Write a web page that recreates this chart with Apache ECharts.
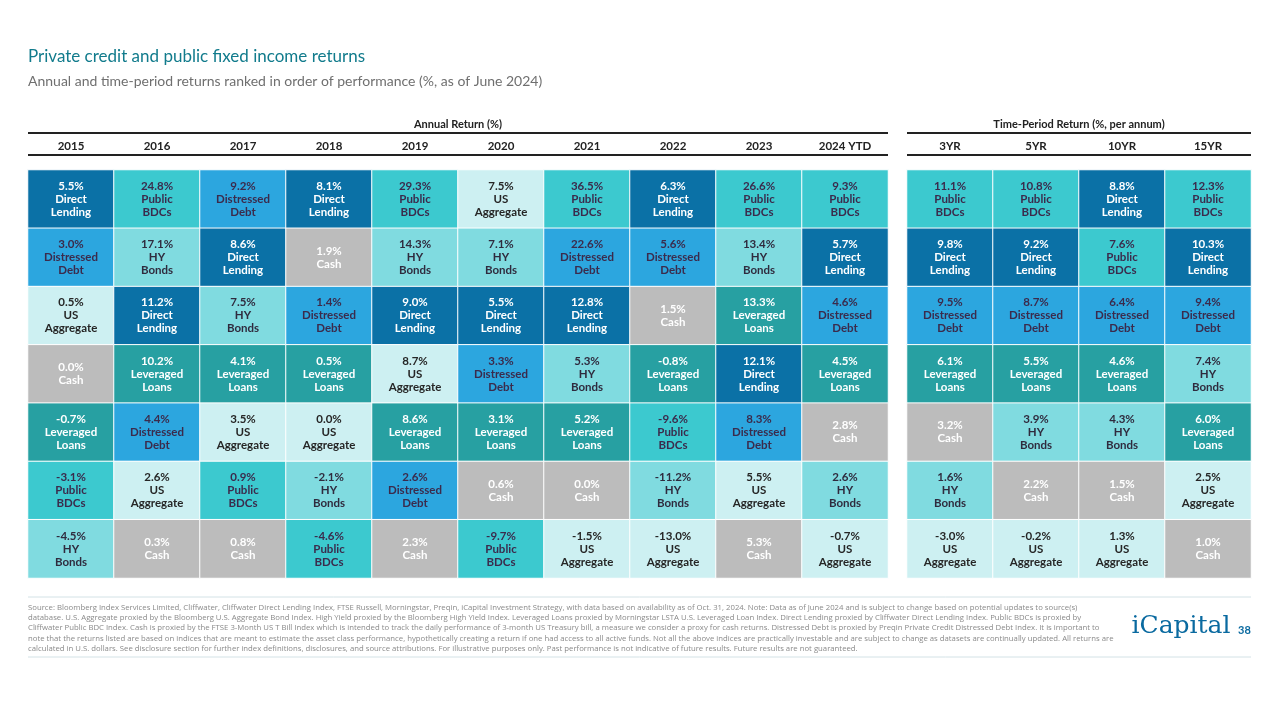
<!DOCTYPE html>
<html>
<head>
<meta charset="utf-8">
<script src="https://cdn.jsdelivr.net/npm/echarts@6/dist/echarts.min.js"></script>
<style>
  html, body { margin: 0; padding: 0; background: #fff; }
  #chart { width: 1280px; height: 720px; }
</style>
</head>
<body>
<div id="chart"></div>
<script>
// ---- Data ----
const annualColumns = ['2015', '2016', '2017', '2018', '2019', '2020', '2021', '2022', '2023', '2024 YTD'];
const periodColumns = ['3YR', '5YR', '10YR', '15YR'];
const assetNames = ['Direct Lending', 'Public BDCs', 'Distressed Debt', 'HY Bonds', 'Leveraged Loans', 'US Aggregate', 'Cash'];
// values per asset: 10 annual columns followed by 4 time-period columns
const directLending  = [5.5, 11.2, 8.6, 8.1, 9.0, 5.5, 12.8, 6.3, 12.1, 5.7, 9.8, 9.2, 8.8, 10.3];
const publicBDCs     = [-3.1, 24.8, 0.9, -4.6, 29.3, -9.7, 36.5, -9.6, 26.6, 9.3, 11.1, 10.8, 7.6, 12.3];
const distressedDebt = [3.0, 4.4, 9.2, 1.4, 2.6, 3.3, 22.6, 5.6, 8.3, 4.6, 9.5, 8.7, 6.4, 9.4];
const hyBonds        = [-4.5, 17.1, 7.5, -2.1, 14.3, 7.1, 5.3, -11.2, 13.4, 2.6, 1.6, 3.9, 4.3, 7.4];
const leveragedLoans = [-0.7, 10.2, 4.1, 0.5, 8.6, 3.1, 5.2, -0.8, 13.3, 4.5, 6.1, 5.5, 4.6, 6.0];
const usAggregate    = [0.5, 2.6, 3.5, 0.0, 8.7, 7.5, -1.5, -13.0, 5.5, -0.7, -3.0, -0.2, 1.3, 2.5];
const cash           = [0.0, 0.3, 0.8, 1.9, 2.3, 0.6, 0.0, 1.5, 5.3, 2.8, 3.2, 2.2, 1.5, 1.0];
const assetValues = [directLending, publicBDCs, distressedDebt, hyBonds, leveragedLoans, usAggregate, cash];
const ranks = ['1', '2', '3', '4', '5', '6', '7'];

// ---- Styles ----
const assetColors = ['#0b71a6', '#3cc9cf', '#2ca6df', '#80dbe0', '#27a0a2', '#cdf0f2', '#bcbcbc'];
const assetText   = ['#ffffff', '#3b2b4c', '#3b2b4c', '#2f2b3e', '#ffffff', '#262626', '#ffffff'];
const assetLabel  = ['Direct\nLending', 'Public\nBDCs', 'Distressed\nDebt', 'HY\nBonds', 'Leveraged\nLoans', 'US\nAggregate', 'Cash'];
const FONT = 'Lato, "Open Sans", sans-serif';

function buildData(colOffset, nCols) {
  const out = [];
  for (let c = 0; c < nCols; c++) {
    const col = colOffset + c;
    const order = assetNames.map((n, i) => i).sort((a, b) => assetValues[b][col] - assetValues[a][col]);
    order.forEach((ai, r) => {
      out.push({
        value: [c, r, assetValues[ai][col]],
        name: assetNames[ai],
        itemStyle: { color: assetColors[ai] },
        label: { color: assetText[ai] }
      });
    });
  }
  return out;
}

const labelCfg = {
  show: true,
  fontFamily: FONT,
  fontWeight: 'bold',
  fontSize: 11.5,
  lineHeight: 13,
  align: 'center',
  formatter: p => p.value[2].toFixed(1) + '%\n' + assetLabel[assetNames.indexOf(p.name)]
};

const axisLabelTop = { fontFamily: FONT, fontWeight: 'bold', fontSize: 11.5, color: '#222', margin: 18 };

const footerLines = [
  'Source: Bloomberg Index Services Limited, Cliffwater, Cliffwater Direct Lending Index, FTSE Russell, Morningstar, Preqin, iCapital Investment Strategy, with data based on availability as of Oct. 31, 2024. Note: Data as of June 2024 and is subject to change based on potential updates to source(s)',
  'database. U.S. Aggregate proxied by the Bloomberg U.S. Aggregate Bond Index. High Yield proxied by the Bloomberg High Yield Index. Leveraged Loans proxied by Morningstar LSTA U.S. Leveraged Loan Index. Direct Lending proxied by Cliffwater Direct Lending Index. Public BDCs is proxied by',
  'Cliffwater Public BDC Index. Cash is proxied by the FTSE 3-Month US T Bill Index which is intended to track the daily performance of 3-month US Treasury bill, a measure we consider a proxy for cash returns. Distressed Debt is proxied by Preqin Private Credit Distressed Debt Index. It is important to',
  'note that the returns listed are based on indices that are meant to estimate the asset class performance, hypothetically creating a return if one had access to all active funds. Not all the above indices are practically investable and are subject to change as datasets are continually updated. All returns are',
  'calculated in U.S. dollars. See disclosure section for further index definitions, disclosures, and source attributions. For illustrative purposes only. Past performance is not indicative of future results. Future results are not guaranteed.'
];

const graphics = [
  { type: 'text', left: 28, top: 48, style: { text: 'Private credit and public fixed income returns', fontFamily: FONT, fontSize: 17, fill: '#117b8c' } },
  { type: 'text', left: 28, top: 74, style: { text: 'Annual and time-period returns ranked in order of performance (%, as of June 2024)', fontFamily: FONT, fontSize: 14, fill: '#6f6f6f' } },
  { type: 'text', x: 458, y: 124, style: { text: 'Annual Return (%)', fontFamily: FONT, fontWeight: 'bold', fontSize: 11, fill: '#222', align: 'center', verticalAlign: 'middle' } },
  { type: 'text', x: 1079, y: 124, style: { text: 'Time-Period Return (%, per annum)', fontFamily: FONT, fontWeight: 'bold', fontSize: 11, fill: '#222', align: 'center', verticalAlign: 'middle' } },
  { type: 'line', shape: { x1: 28, y1: 133, x2: 888, y2: 133 }, style: { stroke: '#222', lineWidth: 2 } },
  { type: 'line', shape: { x1: 907, y1: 133, x2: 1251, y2: 133 }, style: { stroke: '#222', lineWidth: 2 } },
  { type: 'line', shape: { x1: 28, y1: 155, x2: 888, y2: 155 }, style: { stroke: '#222', lineWidth: 2 } },
  { type: 'line', shape: { x1: 907, y1: 155, x2: 1251, y2: 155 }, style: { stroke: '#222', lineWidth: 2 } },
  { type: 'line', shape: { x1: 28, y1: 597, x2: 1251, y2: 597 }, style: { stroke: '#d3e2e6', lineWidth: 1 } },
  { type: 'line', shape: { x1: 28, y1: 657, x2: 1251, y2: 657 }, style: { stroke: '#d3e2e6', lineWidth: 1 } },
  { type: 'text', x: 1181, y: 626, style: { text: 'iCapital', fontFamily: '"DejaVu Serif", "Liberation Serif", serif', fontSize: 25, fill: '#0a6aa0', align: 'center', verticalAlign: 'middle' } },
  { type: 'text', x: 1238, y: 630, style: { text: '38', fontFamily: FONT, fontWeight: 'bold', fontSize: 11, fill: '#0a6aa0', align: 'left', verticalAlign: 'middle' } }
];
footerLines.forEach((t, i) => {
  graphics.push({ type: 'text', left: 28, top: 603.5 + i * 10.3, style: { text: t, fontFamily: '"Open Sans", sans-serif', fontSize: 7.75, fill: '#8a8a8a' } });
});

const chart = echarts.init(document.getElementById('chart'), null, { renderer: 'canvas' });
chart.setOption({
  backgroundColor: '#ffffff',
  animation: false,
  grid: [
    { left: 28, top: 170, width: 860, height: 408 },
    { left: 907, top: 170, width: 344, height: 408 }
  ],
  xAxis: [
    { gridIndex: 0, type: 'category', data: annualColumns, position: 'top', axisLine: { show: false }, axisTick: { show: false }, splitLine: { show: false }, axisLabel: axisLabelTop },
    { gridIndex: 1, type: 'category', data: periodColumns, position: 'top', axisLine: { show: false }, axisTick: { show: false }, splitLine: { show: false }, axisLabel: axisLabelTop }
  ],
  yAxis: [
    { gridIndex: 0, type: 'category', data: ranks, inverse: true, show: false },
    { gridIndex: 1, type: 'category', data: ranks, inverse: true, show: false }
  ],
  series: [
    { type: 'heatmap', xAxisIndex: 0, yAxisIndex: 0, data: buildData(0, annualColumns.length),
      itemStyle: { borderColor: '#ffffff', borderWidth: 1 }, label: labelCfg, emphasis: { disabled: true } },
    { type: 'heatmap', xAxisIndex: 1, yAxisIndex: 1, data: buildData(annualColumns.length, periodColumns.length),
      itemStyle: { borderColor: '#ffffff', borderWidth: 1 }, label: labelCfg, emphasis: { disabled: true } }
  ],
  graphic: graphics
});
</script>
</body>
</html>
